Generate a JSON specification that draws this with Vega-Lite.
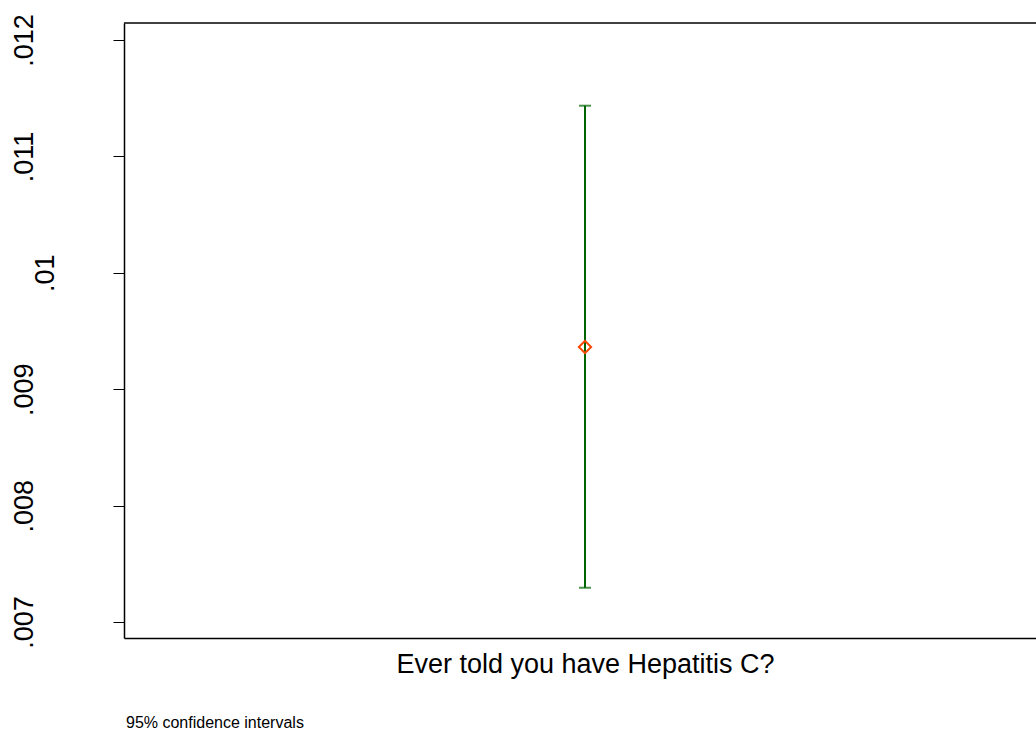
{
  "$schema": "https://vega.github.io/schema/vega-lite/v6.json",
  "autosize": {"type": "none"},
  "padding": {"left": 124, "top": 23, "right": 0, "bottom": 96},
  "width": 912,
  "height": 615,
  "background": "white",
  "config": {
    "view": {"stroke": null},
    "font": "Liberation Sans"
  },
  "title": {
    "text": "95% confidence intervals",
    "orient": "bottom",
    "anchor": "start",
    "frame": "group",
    "fontSize": 16,
    "font": "Liberation Sans",
    "fontWeight": "normal",
    "color": "black",
    "offset": 38,
    "dx": 2
  },
  "data": {
    "values": [
      {"label": "Ever told you have Hepatitis C?", "mean": 0.0093625, "lo": 0.0072947, "hi": 0.0114356}
    ]
  },
  "layer": [
    {
      "mark": {"type": "rule", "color": "black", "strokeWidth": 1.5},
      "encoding": {
        "y": {
          "datum": 0.012146,
          "type": "quantitative",
          "scale": {"domain": [0.006863, 0.012146], "nice": false, "zero": false},
          "axis": {
            "title": null,
            "values": [0.007, 0.008, 0.009, 0.01, 0.011, 0.012],
            "labelExpr": "replace(format(datum.value, '~g'), '0.', '.')",
            "labelFontSize": 27,
            "labelFont": "Liberation Sans",
            "labelColor": "black",
            "labelAngle": 270,
            "labelAlign": "center",
            "labelBaseline": "alphabetic",
            "labelPadding": {"condition": {"test": "abs(datum.value - 0.01) < 1e-6", "value": 60}, "value": 81},
            "tickSize": 11,
            "tickColor": "black",
            "tickWidth": 1,
            "domain": true,
            "domainColor": "black",
            "domainWidth": 1.5,
            "grid": false
          }
        }
      }
    },
    {
      "mark": {"type": "errorbar", "color": "#006400", "thickness": 2, "ticks": {"size": 12, "thickness": 2, "color": "#006400"}},
      "encoding": {
        "x": {
          "field": "label",
          "type": "nominal",
          "scale": {"type": "point", "range": [0, 922]},
          "axis": {
            "title": "Ever told you have Hepatitis C?",
            "titleFontSize": 27,
            "titleFont": "Liberation Sans",
            "titleFontWeight": "normal",
            "titleColor": "black",
            "titleX": 461,
            "titleY": 34,
            "titleAlign": "center",
            "titleBaseline": "alphabetic",
            "labels": false,
            "ticks": false,
            "domain": true,
            "domainColor": "black",
            "domainWidth": 1.5,
            "grid": false
          }
        },
        "y": {"field": "lo", "type": "quantitative"},
        "y2": {"field": "hi"}
      }
    },
    {
      "mark": {"type": "point", "shape": "diamond", "filled": false, "size": 150, "strokeWidth": 2, "color": "#ff4500", "opacity": 1},
      "encoding": {
        "x": {"field": "label", "type": "nominal"},
        "y": {"field": "mean", "type": "quantitative"}
      }
    }
  ]
}
